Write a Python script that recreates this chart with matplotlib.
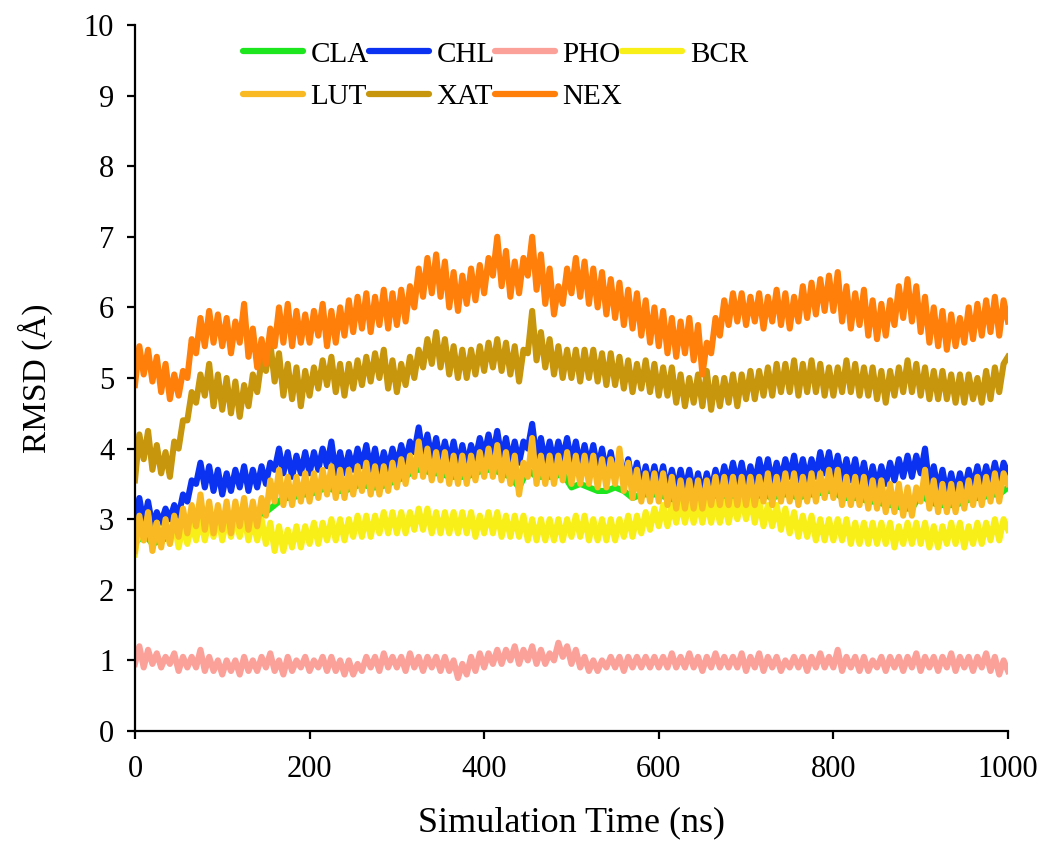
import numpy as np
import matplotlib
matplotlib.use("Agg")
import matplotlib.pyplot as plt

plt.rcParams['font.family'] = ['Liberation Serif', 'DejaVu Serif']

# time axis: 0..1000 ns at 5 ns spacing (201 samples), CLA at 10 ns spacing (101 samples)
time_5ns = np.arange(0, 1001, 5)
time_10ns = np.arange(0, 1001, 10)

NEX = [
    4.9, 5.45, 5.05, 5.4, 4.95, 5.3, 4.8, 5.2, 4.7, 5.05, 4.75, 5.1, 5.0, 5.55, 5.35, 5.85, 5.45, 5.95, 5.5, 5.9,
    5.45, 5.85, 5.35, 5.8, 5.5, 6.05, 5.3, 5.7, 5.15, 5.55, 5.2, 5.7, 5.45, 6.0, 5.5, 6.05, 5.45, 5.95, 5.5, 5.9,
    5.5, 5.95, 5.6, 6.05, 5.45, 5.95, 5.5, 6.0, 5.6, 6.1, 5.65, 6.15, 5.7, 6.2, 5.65, 6.15, 5.75, 6.25, 5.7, 6.2,
    5.75, 6.25, 5.8, 6.3, 6.0, 6.55, 6.15, 6.7, 6.2, 6.75, 6.15, 6.65, 6.0, 6.5, 5.95, 6.45, 6.05, 6.55, 6.1, 6.6,
    6.2, 6.7, 6.45, 7.0, 6.3, 6.8, 6.15, 6.65, 6.2, 6.7, 6.45, 7.0, 6.25, 6.75, 6.05, 6.55, 5.9, 6.3, 6.05, 6.55,
    6.2, 6.7, 6.15, 6.65, 6.05, 6.55, 6.0, 6.5, 5.9, 6.4, 5.85, 6.35, 5.75, 6.25, 5.7, 6.2, 5.6, 6.1, 5.5, 6.0,
    5.45, 5.95, 5.35, 5.85, 5.3, 5.8, 5.35, 5.85, 5.25, 5.75, 5.05, 5.5, 5.35, 5.85, 5.6, 6.1, 5.75, 6.2, 5.8, 6.2,
    5.75, 6.15, 5.8, 6.2, 5.7, 6.15, 5.8, 6.25, 5.75, 6.2, 5.7, 6.15, 5.8, 6.3, 5.85, 6.35, 5.9, 6.4, 5.95, 6.45,
    5.95, 6.5, 5.8, 6.3, 5.7, 6.2, 5.75, 6.25, 5.6, 6.1, 5.55, 6.05, 5.6, 6.1, 5.75, 6.3, 5.85, 6.4, 5.8, 6.3,
    5.65, 6.15, 5.5, 6.0, 5.45, 5.95, 5.4, 5.9, 5.45, 5.85, 5.5, 6.0, 5.55, 6.05, 5.6, 6.1, 5.65, 6.15, 5.6, 6.1,
    5.8]

XAT = [
    3.55, 4.2, 3.85, 4.25, 3.7, 4.05, 3.65, 3.95, 3.6, 4.1, 4.0, 4.4, 4.4, 4.8, 4.65, 5.05, 4.75, 5.2, 4.6, 5.05,
    4.55, 5.0, 4.5, 4.95, 4.45, 4.9, 4.6, 5.05, 4.8, 5.25, 5.1, 5.5, 4.95, 5.35, 4.75, 5.2, 4.7, 5.15, 4.6, 5.1,
    4.75, 5.15, 4.85, 5.25, 4.9, 5.3, 4.8, 5.2, 4.75, 5.2, 4.85, 5.25, 4.9, 5.3, 4.95, 5.35, 5.0, 5.4, 4.85, 5.25,
    4.8, 5.2, 4.9, 5.3, 5.0, 5.4, 5.15, 5.55, 5.2, 5.65, 5.15, 5.55, 5.05, 5.45, 5.0, 5.4, 5.0, 5.4, 5.05, 5.45,
    5.1, 5.5, 5.15, 5.55, 5.1, 5.5, 5.05, 5.45, 4.95, 5.4, 5.35, 5.95, 5.25, 5.65, 5.15, 5.55, 5.05, 5.45, 5.0, 5.4,
    5.0, 5.4, 4.95, 5.4, 5.0, 5.4, 4.95, 5.35, 4.9, 5.35, 4.9, 5.3, 4.85, 5.25, 4.8, 5.2, 4.85, 5.25, 4.8, 5.2,
    4.75, 5.15, 4.75, 5.15, 4.65, 5.05, 4.6, 5.0, 4.65, 5.05, 4.6, 5.1, 4.55, 5.0, 4.6, 5.0, 4.65, 5.05, 4.6, 5.05,
    4.7, 5.1, 4.7, 5.1, 4.75, 5.15, 4.75, 5.2, 4.8, 5.2, 4.8, 5.25, 4.75, 5.2, 4.8, 5.25, 4.8, 5.2, 4.75, 5.15,
    4.75, 5.15, 4.8, 5.25, 4.8, 5.2, 4.75, 5.15, 4.75, 5.15, 4.7, 5.1, 4.65, 5.1, 4.75, 5.15, 4.8, 5.25, 4.8, 5.2,
    4.75, 5.15, 4.7, 5.1, 4.7, 5.1, 4.7, 5.05, 4.65, 5.05, 4.65, 5.05, 4.7, 5.0, 4.65, 5.1, 4.7, 5.15, 4.8, 5.2,
    5.3]

CHL = [
    3.0, 3.3, 2.95, 3.25, 2.9, 3.1, 2.95, 3.15, 3.0, 3.2, 3.05, 3.35, 3.25, 3.55, 3.5, 3.8, 3.45, 3.75, 3.4, 3.7,
    3.35, 3.65, 3.4, 3.7, 3.45, 3.75, 3.4, 3.7, 3.45, 3.75, 3.5, 3.8, 3.7, 4.0, 3.65, 3.95, 3.6, 3.9, 3.65, 3.95,
    3.65, 3.95, 3.7, 4.0, 3.75, 4.1, 3.65, 3.95, 3.65, 3.95, 3.7, 4.0, 3.75, 4.05, 3.7, 4.0, 3.65, 3.95, 3.7, 4.0,
    3.75, 4.05, 3.8, 4.1, 3.95, 4.3, 3.9, 4.2, 3.85, 4.15, 3.8, 4.1, 3.8, 4.1, 3.75, 4.05, 3.75, 4.05, 3.85, 4.15,
    3.9, 4.2, 3.9, 4.25, 3.85, 4.15, 3.8, 4.1, 3.8, 4.1, 4.0, 4.35, 3.85, 4.15, 3.8, 4.1, 3.8, 4.1, 3.85, 4.15,
    3.8, 4.1, 3.75, 4.05, 3.75, 4.05, 3.7, 4.0, 3.65, 3.95, 3.6, 3.9, 3.55, 3.85, 3.5, 3.8, 3.45, 3.75, 3.45, 3.75,
    3.45, 3.75, 3.4, 3.7, 3.4, 3.7, 3.4, 3.7, 3.35, 3.65, 3.35, 3.65, 3.4, 3.7, 3.45, 3.75, 3.5, 3.8, 3.5, 3.8,
    3.45, 3.75, 3.5, 3.85, 3.55, 3.85, 3.5, 3.8, 3.55, 3.85, 3.6, 3.9, 3.55, 3.85, 3.55, 3.85, 3.6, 3.95, 3.65, 3.95,
    3.6, 3.9, 3.55, 3.85, 3.55, 3.85, 3.5, 3.8, 3.45, 3.75, 3.45, 3.75, 3.5, 3.8, 3.55, 3.85, 3.6, 3.9, 3.6, 3.9,
    3.65, 4.0, 3.45, 3.75, 3.4, 3.7, 3.35, 3.65, 3.35, 3.65, 3.4, 3.7, 3.45, 3.75, 3.45, 3.75, 3.5, 3.8, 3.5, 3.8,
    3.65]

LUT = [
    2.55, 3.05, 2.7, 3.1, 2.55, 2.95, 2.6, 3.0, 2.65, 3.05, 2.75, 3.15, 2.8, 3.2, 2.9, 3.35, 2.85, 3.25, 2.8, 3.2,
    2.85, 3.25, 2.8, 3.25, 2.9, 3.3, 2.85, 3.25, 2.9, 3.3, 3.05, 3.55, 3.25, 3.7, 3.2, 3.6, 3.2, 3.6, 3.25, 3.65,
    3.25, 3.65, 3.3, 3.7, 3.35, 3.75, 3.3, 3.7, 3.3, 3.7, 3.35, 3.75, 3.4, 3.8, 3.35, 3.75, 3.35, 3.75, 3.4, 3.8,
    3.45, 3.85, 3.5, 3.9, 3.6, 4.1, 3.6, 4.0, 3.55, 3.95, 3.55, 3.95, 3.5, 3.9, 3.5, 3.9, 3.5, 3.9, 3.55, 3.95,
    3.6, 4.0, 3.6, 4.05, 3.55, 3.95, 3.5, 3.9, 3.35, 3.8, 3.6, 4.15, 3.5, 3.9, 3.5, 3.9, 3.5, 3.9, 3.55, 3.95,
    3.5, 3.9, 3.5, 3.9, 3.5, 3.9, 3.45, 3.85, 3.45, 3.85, 3.5, 4.0, 3.4, 3.8, 3.3, 3.7, 3.25, 3.65, 3.25, 3.65,
    3.25, 3.65, 3.2, 3.6, 3.15, 3.55, 3.15, 3.55, 3.15, 3.55, 3.15, 3.55, 3.2, 3.6, 3.2, 3.6, 3.2, 3.6, 3.2, 3.6,
    3.2, 3.6, 3.2, 3.6, 3.25, 3.65, 3.2, 3.6, 3.25, 3.65, 3.25, 3.65, 3.2, 3.6, 3.25, 3.65, 3.25, 3.65, 3.3, 3.7,
    3.3, 3.7, 3.2, 3.6, 3.2, 3.6, 3.2, 3.6, 3.15, 3.55, 3.15, 3.55, 3.1, 3.5, 3.1, 3.5, 3.05, 3.45, 3.05, 3.45,
    3.25, 3.7, 3.15, 3.55, 3.1, 3.5, 3.1, 3.5, 3.1, 3.5, 3.15, 3.55, 3.2, 3.6, 3.2, 3.6, 3.25, 3.65, 3.25, 3.65,
    3.5]

CLA = [
    2.65, 2.8, 2.65, 2.7, 2.75, 2.85, 2.9, 3.0, 2.95, 2.9,
    2.95, 2.9, 3.0, 2.95, 3.0, 3.1, 3.2, 3.3, 3.3, 3.35,
    3.35, 3.4, 3.45, 3.4, 3.4, 3.45, 3.5, 3.45, 3.45, 3.5,
    3.55, 3.6, 3.7, 3.7, 3.65, 3.65, 3.6, 3.6, 3.6, 3.65,
    3.7, 3.7, 3.65, 3.6, 3.45, 3.7, 3.6, 3.6, 3.6, 3.65,
    3.45, 3.5, 3.45, 3.4, 3.4, 3.45, 3.4, 3.3, 3.35, 3.35,
    3.35, 3.3, 3.25, 3.25, 3.25, 3.25, 3.3, 3.3, 3.3, 3.3,
    3.3, 3.3, 3.35, 3.3, 3.35, 3.35, 3.3, 3.35, 3.35, 3.4,
    3.4, 3.3, 3.3, 3.3, 3.25, 3.25, 3.2, 3.2, 3.15, 3.15,
    3.35, 3.25, 3.2, 3.2, 3.2, 3.25, 3.3, 3.3, 3.35, 3.35,
    3.45]

BCR = [
    2.5, 2.95, 2.7, 3.05, 2.6, 2.95, 2.65, 2.95, 2.65, 2.95, 2.6, 2.9, 2.65, 2.95, 2.7, 3.0, 2.7, 3.0, 2.75, 3.05,
    2.7, 3.0, 2.75, 3.05, 2.75, 3.05, 2.7, 3.0, 2.7, 3.0, 2.65, 2.95, 2.55, 2.9, 2.55, 2.85, 2.6, 2.9, 2.6, 2.9,
    2.65, 2.95, 2.65, 2.95, 2.7, 3.0, 2.7, 3.0, 2.7, 3.0, 2.75, 3.05, 2.75, 3.05, 2.75, 3.05, 2.8, 3.1, 2.8, 3.1,
    2.8, 3.1, 2.8, 3.1, 2.85, 3.15, 2.85, 3.15, 2.8, 3.1, 2.8, 3.1, 2.8, 3.1, 2.8, 3.1, 2.8, 3.1, 2.75, 3.05,
    2.8, 3.1, 2.8, 3.1, 2.75, 3.05, 2.75, 3.05, 2.75, 3.05, 2.7, 3.0, 2.7, 3.0, 2.7, 3.0, 2.7, 3.0, 2.7, 3.0,
    2.75, 3.05, 2.75, 3.05, 2.7, 3.0, 2.7, 3.0, 2.7, 3.0, 2.7, 3.0, 2.75, 3.05, 2.75, 3.05, 2.8, 3.1, 2.85, 3.15,
    2.9, 3.2, 2.9, 3.2, 2.95, 3.25, 2.95, 3.25, 2.95, 3.25, 2.95, 3.25, 2.95, 3.25, 2.95, 3.25, 2.95, 3.25, 3.0, 3.3,
    3.0, 3.3, 2.95, 3.25, 2.9, 3.2, 2.9, 3.2, 2.85, 3.15, 2.8, 3.1, 2.75, 3.05, 2.75, 3.05, 2.7, 3.0, 2.7, 3.0,
    2.7, 3.0, 2.7, 3.0, 2.65, 2.95, 2.65, 2.95, 2.65, 2.95, 2.65, 2.95, 2.65, 2.95, 2.6, 2.9, 2.65, 2.95, 2.65, 2.95,
    2.65, 2.95, 2.6, 2.9, 2.6, 2.9, 2.65, 2.95, 2.65, 2.95, 2.6, 2.9, 2.65, 2.95, 2.65, 2.95, 2.7, 3.0, 2.7, 3.0,
    2.85]

PHO = [
    0.95, 1.2, 0.9, 1.15, 0.95, 1.1, 0.9, 1.05, 0.95, 1.1, 0.85, 1.05, 0.9, 1.05, 0.9, 1.15, 0.85, 1.05, 0.85, 1.0,
    0.8, 1.0, 0.85, 1.0, 0.8, 1.05, 0.85, 1.0, 0.85, 1.05, 0.9, 1.1, 0.85, 1.0, 0.8, 1.05, 0.85, 1.0, 0.9, 1.05,
    0.85, 1.0, 0.9, 1.05, 0.85, 1.05, 0.85, 1.0, 0.8, 1.0, 0.8, 0.95, 0.85, 1.05, 0.9, 1.05, 0.85, 1.1, 0.9, 1.05,
    0.9, 1.05, 0.85, 1.1, 0.9, 1.05, 0.85, 1.05, 0.9, 1.05, 0.85, 1.05, 0.85, 1.0, 0.75, 0.95, 0.8, 1.05, 0.85, 1.1,
    0.9, 1.1, 0.95, 1.15, 0.95, 1.15, 1.0, 1.2, 0.95, 1.15, 1.0, 1.2, 0.95, 1.15, 0.95, 1.1, 1.0, 1.25, 1.05, 1.2,
    0.95, 1.15, 0.9, 1.05, 0.85, 1.0, 0.85, 1.0, 0.9, 1.05, 0.9, 1.05, 0.85, 1.05, 0.9, 1.05, 0.9, 1.05, 0.9, 1.05,
    0.9, 1.05, 0.9, 1.1, 0.9, 1.05, 0.9, 1.1, 0.9, 1.05, 0.85, 1.05, 0.9, 1.1, 0.9, 1.05, 0.9, 1.05, 0.9, 1.1,
    0.85, 1.05, 0.9, 1.1, 0.85, 1.05, 0.9, 1.05, 0.85, 1.0, 0.9, 1.05, 0.9, 1.05, 0.85, 1.05, 0.9, 1.1, 0.9, 1.05,
    0.9, 1.15, 0.85, 1.05, 0.9, 1.05, 0.85, 1.05, 0.85, 1.0, 0.9, 1.05, 0.85, 1.05, 0.9, 1.05, 0.85, 1.05, 0.9, 1.1,
    0.85, 1.05, 0.9, 1.05, 0.85, 1.05, 0.9, 1.1, 0.85, 1.05, 0.9, 1.05, 0.85, 1.05, 0.9, 1.1, 0.85, 1.05, 0.8, 1.0,
    0.85]

names = ["CLA", "CHL", "PHO", "BCR", "LUT", "XAT", "NEX"]
colors = {"CLA": "#1EE61E", "CHL": "#0A32F0", "PHO": "#FCA09A", "BCR": "#F8EE18",
          "LUT": "#F9B922", "XAT": "#C8960C", "NEX": "#FF7F0A"}
series = {"CLA": (time_10ns, CLA), "CHL": (time_5ns, CHL), "PHO": (time_5ns, PHO),
          "BCR": (time_5ns, BCR), "LUT": (time_5ns, LUT), "XAT": (time_5ns, XAT),
          "NEX": (time_5ns, NEX)}
x_ticks = [0, 200, 400, 600, 800, 1000]
y_ticks = list(range(0, 11))

fig = plt.figure(figsize=(10.43, 8.41), dpi=100)
ax = fig.add_axes([0.1294, 0.1308, 0.8370, 0.8395])

for n in names:
    t, v = series[n]
    ax.plot(t, v, color=colors[n], lw=4.4, solid_joinstyle='round', label=n)

ax.set_xlim(0, 1000)
ax.set_ylim(0, 10)
ax.set_xticks(x_ticks)
ax.set_yticks(y_ticks)
for s in ["top", "right"]:
    ax.spines[s].set_visible(False)
for s in ["left", "bottom"]:
    ax.spines[s].set_linewidth(1.6)
ax.tick_params(axis='both', direction='out', length=6, width=1.6, labelsize=22)
ax.tick_params(axis='x', pad=11)
ax.tick_params(axis='y', pad=9)
ax.set_xlabel("Simulation Time (ns)", fontsize=26, labelpad=16)
ax.set_ylabel("RMSD (Å)", fontsize=24, labelpad=22)

order = ["CLA", "LUT", "CHL", "XAT", "PHO", "NEX", "BCR"]
leg_handles = []
for n in order:
    lh, = ax.plot([], [], color=colors[n], lw=4.5, solid_capstyle='round')
    leg_handles.append(lh)
ax.legend(leg_handles, order, ncol=4, frameon=False, fontsize=21,
          loc='upper left', bbox_to_anchor=(0.233, 0.951), bbox_transform=fig.transFigure,
          handlelength=2.05, handletextpad=0.27, columnspacing=0.0, labelspacing=0.56,
          borderaxespad=0, borderpad=0)

fig.savefig("out.png", dpi=100)
